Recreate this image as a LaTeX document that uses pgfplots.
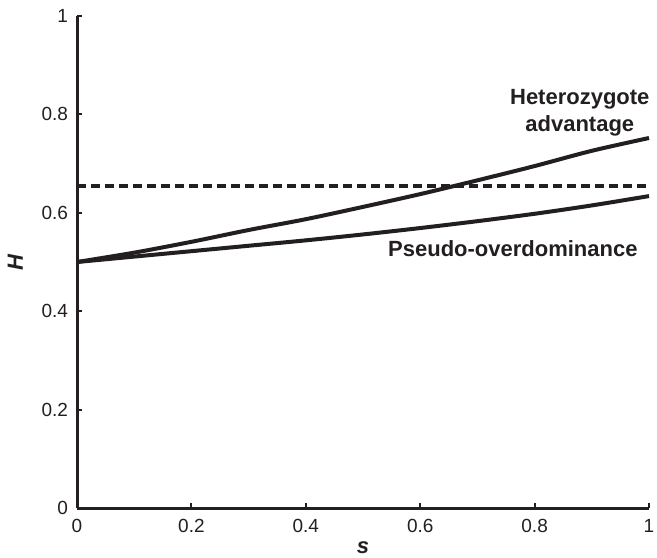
\documentclass[border=0pt]{standalone}
\usepackage{pgfplots}
\pgfplotsset{compat=1.18}
\usepackage{fontspec}
\setmainfont{Liberation Sans}
\definecolor{ink}{HTML}{231F20}
\begin{document}
\begin{tikzpicture}
\begin{axis}[
  scale only axis,
  width=286pt, height=246pt,
  xmin=0, xmax=1, ymin=0, ymax=1,
  axis x line*=bottom, axis y line*=left,
  axis line style={ink, line width=1.5pt},
  tick style={ink, line width=1pt},
  major tick length=2.5pt,
  tick align=inside,
  xtick={0,0.2,0.4,0.6,0.8,1}, ytick={0,0.2,0.4,0.6,0.8,1},
  xticklabels={0,0.2,0.4,0.6,0.8,1}, yticklabels={0,0.2,0.4,0.6,0.8,1},
  ticklabel style={font=\fontsize{9.5}{11}\selectfont, text=ink},
  xticklabel style={yshift=-2pt},
  yticklabel style={xshift=-1pt},
  /pgf/number format/assume math mode=true,
  xlabel={\textbf{\textit{s}}}, ylabel={\textbf{\textit{H}}},
  label style={font=\fontsize{11}{13}\selectfont, text=ink},
  xlabel style={at={(axis description cs:0.5,-0.081)}, anchor=center},
  ylabel style={at={(axis description cs:-0.108,0.5)}, anchor=center},
  clip=false,
]
\addplot[ink, line width=2pt, dash pattern=on 4.5pt off 2.5pt] coordinates {(0,0.655) (1,0.655)};
\addplot[ink, line width=2pt, smooth] coordinates {
(0,0.500) (0.1,0.519) (0.2,0.541) (0.3,0.565) (0.4,0.587) (0.5,0.612)
(0.6,0.638) (0.7,0.666) (0.8,0.695) (0.9,0.726) (1,0.752)};
\addplot[ink, line width=2pt, smooth] coordinates {
(0,0.500) (0.1,0.511) (0.2,0.522) (0.3,0.533) (0.4,0.544) (0.5,0.556)
(0.6,0.569) (0.7,0.583) (0.8,0.598) (0.9,0.615) (1,0.634)};
\node[font=\fontsize{11}{13.5}\selectfont\bfseries, text=ink, align=center] at (axis cs:0.879,0.803) {Heterozygote\\advantage};
\node[font=\fontsize{11}{13}\selectfont\bfseries, text=ink] at (axis cs:0.762,0.528) {Pseudo-overdominance};
\end{axis}
\pgfresetboundingbox
\path ([shift={(-38.5pt,-24.5pt)}]current axis.south west) rectangle ([shift={(4pt,8pt)}]current axis.north east);
\end{tikzpicture}
\end{document}
